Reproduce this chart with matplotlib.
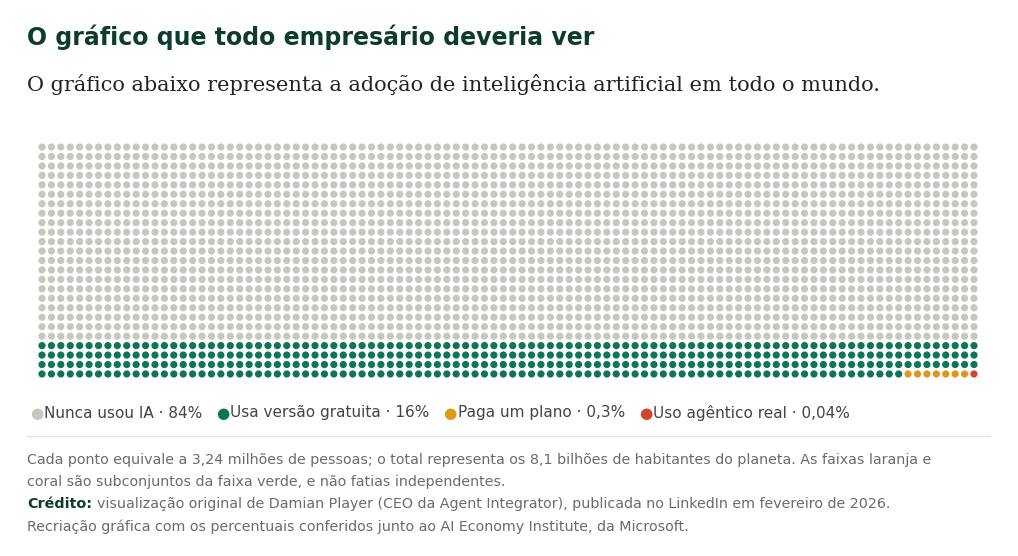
import numpy as np
import matplotlib.pyplot as plt

# dados
categorias = ['Nunca usou IA · 84%', 'Usa versão gratuita · 16%', 'Paga um plano · 0,3%', 'Uso agêntico real · 0,04%']
cores = ['#c8c6bd', '#0f7558', '#e0961c', '#d2452c']
n_pontos = [2100, 392, 7, 1]   # 2500 pontos, 3,24 milhões cada
n_cols = 100
n_rows = 25

W, H = 1018, 556
fig = plt.figure(figsize=(W / 100, H / 100), dpi=100)

def px(x, y):
    return x / W, 1 - y / H

fig.text(*px(27, 37), 'O gráfico que todo empresário deveria ver', fontsize=17, fontweight='bold',
         color='#0d3b2e', va='center')
fig.text(*px(27, 85), 'O gráfico abaixo representa a adoção de inteligência artificial em todo o mundo.',
         fontsize=15, family='DejaVu Serif', color='#222222', va='center')

# grade de pontos
ax = fig.add_axes([37.3 / W, 1 - 378.7 / H, 941.4 / W, 236.4 / H])
cor_pontos = np.repeat(np.arange(len(n_pontos)), n_pontos)
idx = np.arange(n_cols * n_rows)
col = idx % n_cols
row = idx // n_cols
ax.scatter(col, row, s=27, c=[cores[i] for i in cor_pontos], linewidths=0)
ax.set_xlim(-0.5, n_cols - 0.5)
ax.set_ylim(n_rows - 0.5, -0.5)
ax.axis('off')

# legenda
x = 30
for cat, c in zip(categorias, cores):
    fig.text(*px(x, 413), '●', color=c, fontsize=11, va='center')
    t = fig.text(*px(x + 14, 413), cat, color='#444444', fontsize=11, va='center')
    fig.canvas.draw()
    bb = t.get_window_extent()
    x = bb.x1 + 14

fig.add_artist(plt.Line2D([27 / W, 990 / W], [1 - 436 / H] * 2, color='#e2e2e2', lw=1))

cinza = '#6b6b6b'
fig.text(*px(27, 460), 'Cada ponto equivale a 3,24 milhões de pessoas; o total representa os 8,1 bilhões de habitantes do planeta. As faixas laranja e',
         fontsize=10.3, color=cinza, va='center')
fig.text(*px(27, 482), 'coral são subconjuntos da faixa verde, e não fatias independentes.',
         fontsize=10.3, color=cinza, va='center')
t = fig.text(*px(27, 504), 'Crédito:', fontsize=10.3, color='#0d3b2e', fontweight='bold', va='center')
fig.canvas.draw()
bb = t.get_window_extent()
fig.text((bb.x1 + 5) / W, 1 - 504 / H,
         'visualização original de Damian Player (CEO da Agent Integrator), publicada no LinkedIn em fevereiro de 2026.',
         fontsize=10.3, color=cinza, va='center')
fig.text(*px(27, 527), 'Recriação gráfica com os percentuais conferidos junto ao AI Economy Institute, da Microsoft.',
         fontsize=10.3, color=cinza, va='center')

fig.savefig('out.png', dpi=100, facecolor='white')
